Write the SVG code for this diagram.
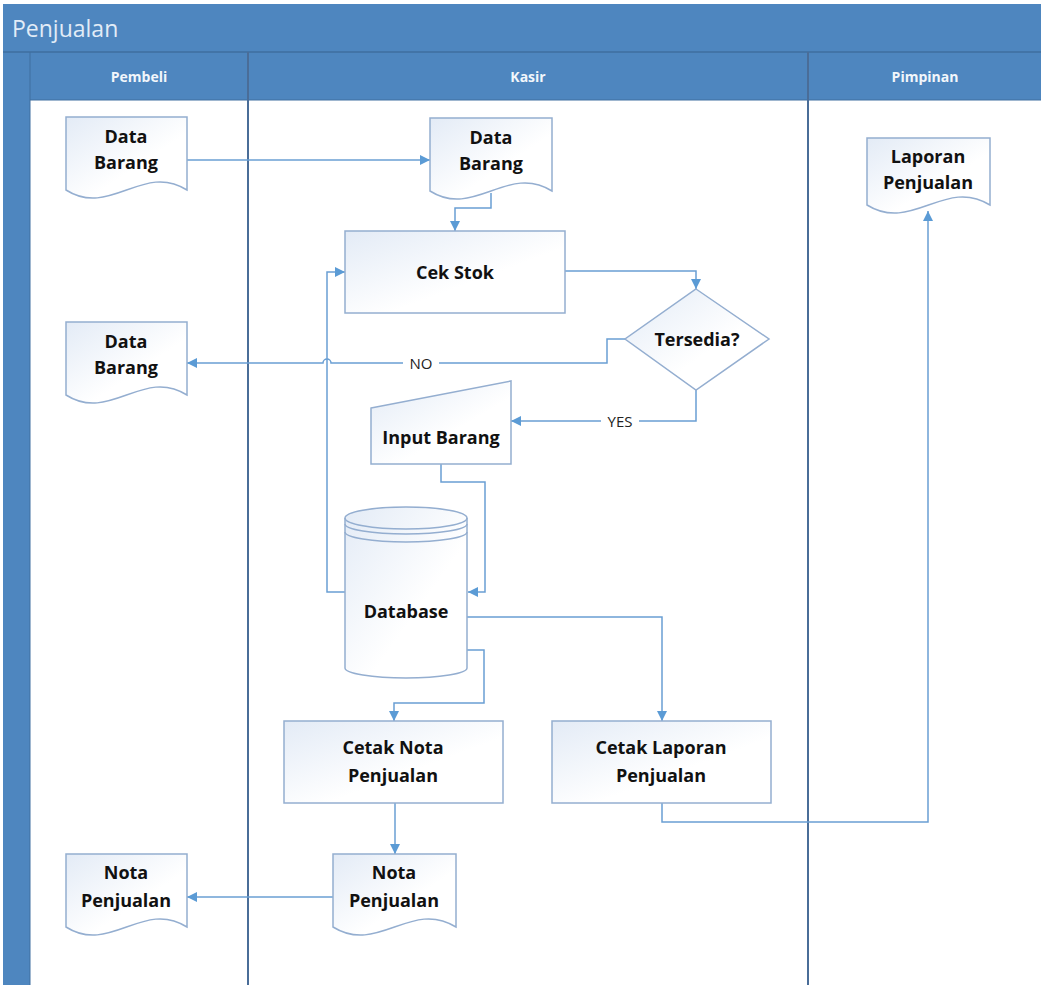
<svg xmlns="http://www.w3.org/2000/svg" width="1041" height="985" viewBox="0 0 1041 985">
<defs>
<linearGradient id="g" x1="0" y1="0" x2="1" y2="1">
<stop offset="0" stop-color="#e3ebf6"/>
<stop offset="0.6" stop-color="#ffffff"/>
</linearGradient>
<marker id="ah" viewBox="0 0 10 10" refX="10" refY="5" markerWidth="10" markerHeight="10" markerUnits="userSpaceOnUse" orient="auto">
<path d="M0,0 L10,5 L0,10 Z" fill="#5b9bd5"/>
</marker>
<style>
.shp{fill:url(#g);stroke:#94aed0;stroke-width:1.5}
.t{font-family:"Open Sans","Liberation Sans",sans-serif;font-weight:bold;font-size:18px;fill:#111;text-anchor:middle}
.ca{fill:none;stroke:#6a9fd3;stroke-width:1.5;marker-end:url(#ah)}
.lh{font-family:"Open Sans","Liberation Sans",sans-serif;font-weight:bold;font-size:14px;fill:#f2f6fb;text-anchor:middle}
.lbl{font-family:"Open Sans","Liberation Sans",sans-serif;font-size:15px;fill:#222;text-anchor:middle}
.div{stroke:#4a6d98;stroke-width:2}
</style>
</defs>
<rect x="0" y="0" width="1041" height="985" fill="#ffffff"/>
<g id="pool">
<rect x="3" y="4" width="1038" height="981" fill="#4e86bf"/>
<rect x="30" y="100" width="1011" height="885" fill="#ffffff"/>
<line x1="3" y1="52" x2="1041" y2="52" stroke="#3f6e9f" stroke-width="1.5"/>
<line x1="30" y1="52" x2="30" y2="985" stroke="#3f6e9f" stroke-width="1"/>
<line x1="30" y1="100" x2="1041" y2="100" stroke="#3f6e9f" stroke-width="1"/>
<line class="div" x1="248" y1="52" x2="248" y2="985"/>
<line class="div" x1="808" y1="52" x2="808" y2="985"/>
<text x="12" y="37" font-family="'Open Sans','Liberation Sans',sans-serif" font-size="23" fill="#e2ecf7">Penjualan</text>
<text class="lh" x="139" y="82">Pembeli</text>
<text class="lh" x="528" y="82">Kasir</text>
<text class="lh" x="925" y="82">Pimpinan</text>
</g>
<g id="connectors">
<path class="ca" d="M187,160 H430"/>
<path class="ca" d="M491,193 V208 H455 V231"/>
<path class="ca" d="M565,271 H696 V289"/>
<path class="ca" d="M625,339 H607 V363 H331 A4,4 0 0 0 323,363 H187"/>
<path class="ca" d="M696,390 V421 H511"/>
<path class="ca" d="M441,464 V482 H485 V592 H468"/>
<path class="ca" d="M345,592 H327 V272 H345"/>
<path class="ca" d="M467,617 H662 V721"/>
<path class="ca" d="M467,650 H484 V703 H394 V721"/>
<path class="ca" d="M662,803 V822 H928 V211"/>
<path class="ca" d="M395,803 V854"/>
<path class="ca" d="M333,897 H187"/>
<rect x="403" y="354" width="36" height="18" fill="#ffffff"/>
<text class="lbl" x="421" y="369">NO</text>
<rect x="601" y="412" width="38" height="18" fill="#ffffff"/>
<text class="lbl" x="620" y="427">YES</text>
</g>
<g id="n-databarang-pembeli">
<path class="shp" d="M66,117 H187 V190 C143,162 110,218 66,190 Z"/>
<text class="t" x="126" y="143">Data</text>
<text class="t" x="126" y="169">Barang</text>
</g>
<g id="n-databarang-kasir">
<path class="shp" d="M430,118 H552 V191 C508,163 474,219 430,191 Z"/>
<text class="t" x="491" y="144">Data</text>
<text class="t" x="491" y="170">Barang</text>
</g>
<g id="n-databarang-pembeli2">
<path class="shp" d="M66,322 H187 V395 C143,367 110,423 66,395 Z"/>
<text class="t" x="126" y="348">Data</text>
<text class="t" x="126" y="374">Barang</text>
</g>
<g id="n-laporan">
<path class="shp" d="M867,138 H990 V205 C945,177 912,233 867,205 Z"/>
<text class="t" x="928" y="163">Laporan</text>
<text class="t" x="928" y="189">Penjualan</text>
</g>
<g id="n-cekstok">
<rect class="shp" x="345" y="231" width="220" height="82"/>
<text class="t" x="455" y="279">Cek Stok</text>
</g>
<g id="n-tersedia">
<polygon class="shp" points="696,289 769,339 696,390 625,339"/>
<text class="t" x="697" y="346">Tersedia?</text>
</g>
<g id="n-input">
<polygon class="shp" points="371,408 511,381 511,464 371,464"/>
<text class="t" x="441" y="444">Input Barang</text>
</g>
<g id="n-database">
<path class="shp" d="M345,518 V668 A61,10 0 0 0 467,668 V518 A61,11 0 0 0 345,518 Z"/>
<path fill="none" stroke="#94aed0" stroke-width="1.5" d="M345,518 A61,11 0 0 0 467,518 M345,524 A61,10 0 0 0 467,524 M345,532 A61,10 0 0 0 467,532"/>
<text class="t" x="406" y="618">Database</text>
</g>
<g id="n-cetaknota">
<rect class="shp" x="284" y="721" width="219" height="82"/>
<text class="t" x="393" y="754">Cetak Nota</text>
<text class="t" x="393" y="782">Penjualan</text>
</g>
<g id="n-cetaklaporan">
<rect class="shp" x="552" y="721" width="219" height="82"/>
<text class="t" x="661" y="754">Cetak Laporan</text>
<text class="t" x="661" y="782">Penjualan</text>
</g>
<g id="n-nota-kasir">
<path class="shp" d="M333,854 H456 V927 C411,899 378,955 333,927 Z"/>
<text class="t" x="394" y="879">Nota</text>
<text class="t" x="394" y="907">Penjualan</text>
</g>
<g id="n-nota-pembeli">
<path class="shp" d="M66,854 H187 V927 C143,899 110,955 66,927 Z"/>
<text class="t" x="126" y="879">Nota</text>
<text class="t" x="126" y="907">Penjualan</text>
</g>
</svg>
